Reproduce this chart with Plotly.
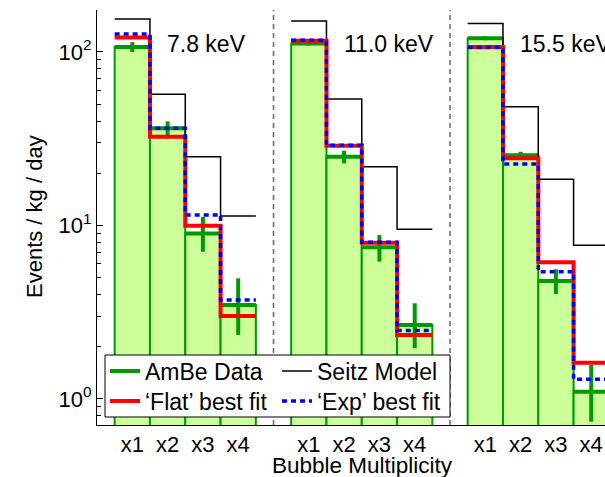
import plotly.graph_objects as go

# ---------------- data ----------------
energies = ["7.8 keV", "11.0 keV", "15.5 keV"]
mult_labels = ["x1", "x2", "x3", "x4"]

# AmBe data (events / kg / day) per energy panel
data_78 = [107, 36.3, 9.0, 3.48]
data_110 = [112, 24.9, 7.49, 2.67]
data_155 = [120, 25.4, 4.79, 1.10]

# upper / lower ends of the error bars
hi_78 = [114, 39.8, 11.2, 4.96]
lo_78 = [100, 33.0, 7.06, 2.34]
hi_110 = [115, 27.0, 8.8, 3.56]
lo_110 = [109, 22.8, 6.19, 1.96]
hi_155 = [123, 26.6, 5.59, 1.57]
lo_155 = [117, 24.3, 4.03, 0.74]

# 'Flat' best fit
flat_78 = [121, 32.5, 9.97, 3.01]
flat_110 = [116, 28.8, 7.96, 2.34]
flat_155 = [107, 24.4, 6.13, 1.62]

# 'Exp' best fit
exp_78 = [127, 36.3, 11.5, 3.72]
exp_110 = [117, 29.0, 8.0, 2.48]
exp_155 = [106, 22.6, 5.42, 1.30]

# Seitz model
seitz_78 = [155, 57, 24.9, 11.35]
seitz_110 = [151, 53.6, 21.8, 9.5]
seitz_155 = [146, 48.4, 18.5, 7.7]

# ---------------- layout helpers ----------------
data_sets = [data_78, data_110, data_155]
hi_sets = [hi_78, hi_110, hi_155]
lo_sets = [lo_78, lo_110, lo_155]
flat_sets = [flat_78, flat_110, flat_155]
exp_sets = [exp_78, exp_110, exp_155]
seitz_sets = [seitz_78, seitz_110, seitz_155]

GAP = 5  # one empty slot between panels
offsets = [i * GAP for i in range(len(energies))]
nb = len(mult_labels)

FONT = "Liberation Sans, Arial, Helvetica, sans-serif"
GREEN = "#009900"
FILL = "#ccff99"

# plot-area geometry in pixels (for placing paper-referenced items)
L, T, W, H = 97, 10, 508, 415


def px_x(px):
    return (px - L) / W


def px_y(py):
    return (T + H - py) / H


bar_x, bar_y = [], []
pt_x, pt_y, e_plus, e_minus, e_x = [], [], [], [], []
tick_vals, tick_text = [], []
for off, d, hi, lo in zip(offsets, data_sets, hi_sets, lo_sets):
    for k in range(nb):
        p = off + k + 1
        bar_x.append(p)
        bar_y.append(d[k])
        pt_x += [p, None]
        pt_y += [d[k], None]
        e_plus += [hi[k] - d[k], 0]
        e_minus += [d[k] - lo[k], 0]
        e_x += [0.5, 0]
        tick_vals.append(p)
        tick_text.append(mult_labels[k])


def steps(sets):
    xs, ys = [], []
    for off, vals in zip(offsets, sets):
        edges = [off + k + 0.5 for k in range(nb + 1)]
        xs += edges + [None]
        ys += list(vals) + [vals[-1], None]
    return xs, ys


fig = go.Figure()

fig.add_trace(go.Bar(
    x=bar_x, y=bar_y, width=1,
    marker=dict(color=FILL, line=dict(color=GREEN, width=2)),
    showlegend=False, hoverinfo="skip",
))

fig.add_trace(go.Scatter(
    x=pt_x, y=pt_y, mode="lines", name="AmBe Data",
    line=dict(color=GREEN, width=4),
    error_y=dict(type="data", symmetric=False, array=e_plus, arrayminus=e_minus,
                 color=GREEN, thickness=4, width=0),
    error_x=dict(type="data", array=e_x, color=GREEN, thickness=4, width=0),
    legend="legend", legendrank=1,
))

sx, sy = steps(seitz_sets)
fig.add_trace(go.Scatter(x=sx, y=sy, mode="lines", name="Seitz Model",
                         line=dict(color="black", width=1.5, shape="hv"),
                         legend="legend", legendrank=2))
fx, fy = steps(flat_sets)
fig.add_trace(go.Scatter(x=fx, y=fy, mode="lines", name="\u2018Flat\u2019 best fit",
                         line=dict(color="#ff0000", width=4, shape="hv"),
                         legend="legend2", legendrank=3))
ex, ey = steps(exp_sets)
fig.add_trace(go.Scatter(x=ex, y=ey, mode="lines", name="\u2018Exp\u2019 best fit",
                         line=dict(color="#0000ff", width=3.5, shape="hv", dash="5px,4px"),
                         legend="legend2", legendrank=4))

# dashed panel separators
for off in offsets[1:]:
    fig.add_shape(type="line", xref="x", yref="paper", x0=off, x1=off, y0=0, y1=1,
                  line=dict(color="#666666", width=1.5, dash="5px,4px"), layer="below")

# legend frame (white box, the legend rows sit on top of it)
fig.add_shape(type="rect", xref="paper", yref="paper",
              x0=px_x(105), x1=px_x(450), y0=px_y(417), y1=px_y(355),
              fillcolor="white", line=dict(color="black", width=1), layer="above")

# panel energy labels
for off, lab in zip(offsets, energies):
    fig.add_annotation(x=off + 1.93, y=px_y(44), xref="x", yref="paper",
                       text=lab, showarrow=False, xanchor="left", yanchor="middle",
                       font=dict(size=23, family=FONT, color="black"))

# axis titles
fig.add_annotation(x=px_x(362), y=px_y(465), xref="paper", yref="paper",
                   text="Bubble Multiplicity", showarrow=False, xanchor="center",
                   yanchor="middle", font=dict(size=22.5, family=FONT, color="black"))
fig.add_annotation(x=px_x(35), y=px_y(217), xref="paper", yref="paper",
                   text="Events / kg / day", showarrow=False, textangle=-90,
                   xanchor="center", yanchor="middle",
                   font=dict(size=22, family=FONT, color="black"))

minor_vals = [m * 10 ** e for e in (-1, 0, 1) for m in range(2, 10)]

legend_common = dict(orientation="h", x=px_x(105), xanchor="left", yanchor="middle",
                     bgcolor="rgba(0,0,0,0)", borderwidth=0,
                     font=dict(size=23, family=FONT, color="black"),
                     entrywidth=127, entrywidthmode="pixels", itemwidth=30)

fig.update_layout(
    width=605, height=477,
    margin=dict(l=L, r=0, t=T, b=477 - T - H),
    paper_bgcolor="white", plot_bgcolor="white",
    font=dict(family=FONT, size=22, color="black"),
    barmode="overlay",
    xaxis=dict(range=[0, 14.39], tickmode="array", tickvals=tick_vals, ticktext=tick_text,
               ticks="", showgrid=False, zeroline=False, showline=True,
               linecolor="black", linewidth=1, tickfont=dict(size=22)),
    yaxis=dict(type="log", range=[-0.15, 2.242], tickmode="array",
               tickvals=[1, 10, 100],
               ticktext=["10<sup>0</sup>", "10<sup>1</sup>", "10<sup>2</sup>"],
               ticks="inside", ticklen=6, tickcolor="black", showgrid=False,
               zeroline=False, showline=True, linecolor="black", linewidth=1,
               ticklabelstandoff=0, tickfont=dict(size=22),
               minor=dict(tickmode="array", tickvals=minor_vals, ticks="inside",
                          ticklen=4, tickcolor="black", showgrid=False)),
    legend=dict(y=px_y(371), **legend_common),
    legend2=dict(y=px_y(401), **legend_common),
)

fig.write_html("out.html")
